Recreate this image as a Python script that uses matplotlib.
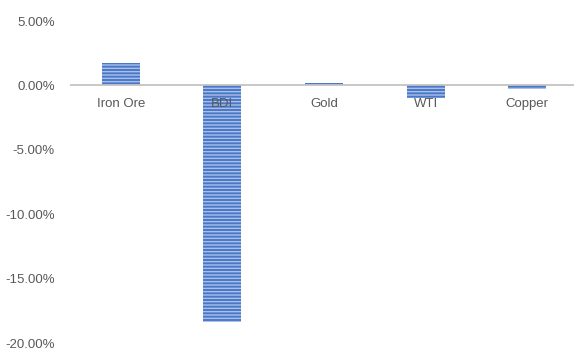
import matplotlib
matplotlib.use('Agg')
import matplotlib.pyplot as plt
from matplotlib.ticker import FuncFormatter

categorias = ['Iron Ore', 'BDI', 'Gold', 'WTI', 'Copper']
variacao = [1.75, -18.4, 0.15, -1.0, -0.3]
ticks_y = [5, 0, -5, -10, -15, -20]

plt.rcParams['font.family'] = ['Liberation Sans', 'DejaVu Sans']
plt.rcParams['hatch.color'] = '#a9c0e8'
plt.rcParams['hatch.linewidth'] = 1.0

fig = plt.figure(figsize=(5.74, 3.49), dpi=100)
ax = fig.add_axes([70 / 574, 6 / 349, 508 / 574, 322 / 349])

x = range(len(categorias))
ax.bar(x, variacao, width=0.375, color='#4a78c8', linewidth=0, hatch='-----')

ax.set_xlim(-0.5, len(categorias) - 0.5)
ax.set_ylim(-20, 5)
ax.set_yticks(ticks_y)
ax.yaxis.set_major_formatter(FuncFormatter(lambda v, p: f'{v:.2f}%'))
ax.tick_params(axis='y', length=0, labelsize=9.5, labelcolor='#595959', pad=11)
ax.set_xticks([])

for s in ax.spines.values():
    s.set_visible(False)
ax.axhline(0, color='#bfbfbf', linewidth=1.2, zorder=3)

# rótulos das categorias logo abaixo da linha do zero
for i, nome in enumerate(categorias):
    ax.text(i, -0.95, nome, ha='center', va='top', fontsize=9.5, color='#595959', zorder=4)

fig.savefig('out.png', dpi=100)
